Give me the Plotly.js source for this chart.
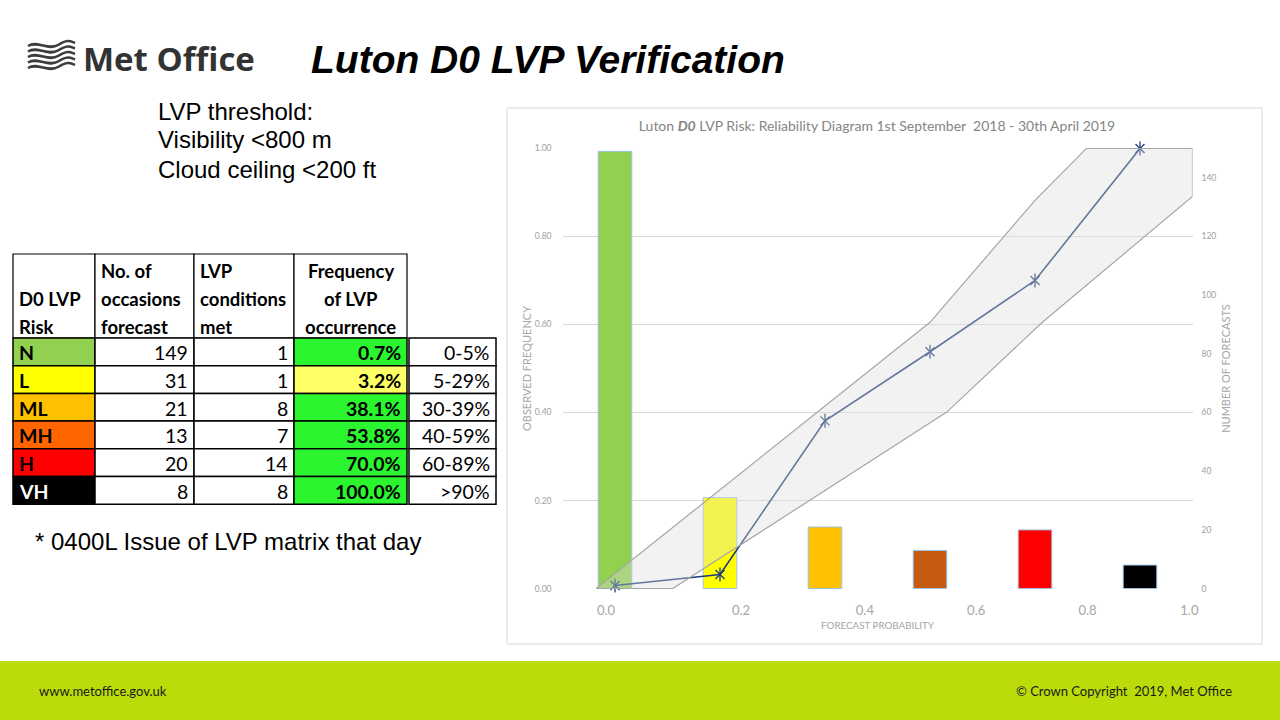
<!DOCTYPE html>
<html><head><meta charset="utf-8">
<script src="https://cdn.plot.ly/plotly-3.0.1.min.js"></script>
<style>html,body{margin:0;padding:0;background:#fff;overflow:hidden}#chart{width:1280px;height:720px;}</style>
</head><body><div id="chart"></div>
<script>
// ---------------- data ----------------
const riskCategories = ['N', 'L', 'ML', 'MH', 'H', 'VH'];
const occasionsForecast = [149, 31, 21, 13, 20, 8];
const lvpConditionsMet = [1, 1, 8, 7, 14, 8];
const lvpFrequencyPct = [0.7, 3.2, 38.1, 53.8, 70.0, 100.0];
const probabilityRanges = ['0-5%', '5-29%', '30-39%', '40-59%', '60-89%', '>90%'];
const tableHeaders = [
  ['', 'D0 LVP', 'Risk'],
  ['No. of', 'occasions', 'forecast'],
  ['LVP', 'conditions', 'met'],
  ['Frequency', 'of LVP', 'occurrence']
];
const xTickLabels = ['0.0', '0.2', '0.4', '0.6', '0.8', '1.0'];
// confidence band, x in category-index units, y as observed frequency
const bandUpperX = [-0.18, 3.0, 4.0, 4.49, 5.5];
const bandUpperY = [0.0, 0.605, 0.882, 1.0, 1.0];
const bandLowerX = [-0.18, 0.55, 3.16, 4.07, 5.5];
const bandLowerY = [0.0, 0.0, 0.401, 0.605, 0.891];

// ---------------- styles / layout helpers ----------------
const W = 1280, H = 720;
const px = x => x / W;
const py = y => 1 - y / H;
const barColors = ['#92D050', '#FFFF00', '#FFC000', '#C55A11', '#FF0000', '#000000'];
const riskFill = ['#92D050', '#FFFF00', '#FFC000', '#FF6600', '#FF0000', '#000000'];
const riskFont = ['#000', '#000', '#000', '#000', '#000', '#fff'];
const freqFill = ['#2BF52F', '#FFFF66', '#2BF52F', '#2BF52F', '#2BF52F', '#2BF52F'];
const xTickPos = [-0.086, 1.2, 2.38, 3.44, 4.5, 5.47];
const lineColor = '#203C7C';
const chartFont = 'Lato, "Open Sans", sans-serif';
const arial = '"Liberation Sans", Arial, sans-serif';
const idx = riskCategories.map((_, i) => i);

const bandX = bandUpperX.concat(bandLowerX.slice().reverse());
const bandY = bandUpperY.concat(bandLowerY.slice().reverse());

const traces = [
  {
    type: 'bar', x: idx, y: occasionsForecast, width: 0.32,
    xaxis: 'x', yaxis: 'y', name: 'Number of forecasts',
    text: riskCategories, hoverinfo: 'text+y', textposition: 'none',
    marker: {color: barColors, line: {color: '#9DC3E6', width: 1}}
  },
  {
    type: 'scatter', mode: 'lines', x: idx, y: lvpFrequencyPct.map(v => v / 100),
    xaxis: 'x', yaxis: 'y2', name: 'Observed frequency',
    line: {color: lineColor, width: 1.6}
  },
  {
    type: 'scatter', mode: 'markers', x: idx, y: lvpFrequencyPct.map(v => v / 100),
    xaxis: 'x', yaxis: 'y2', showlegend: false, hoverinfo: 'skip', cliponaxis: false,
    marker: {symbol: 'x-thin-open', size: 9, color: lineColor, line: {width: 1.3}}
  },
  {
    type: 'scatter', mode: 'markers', x: idx, y: lvpFrequencyPct.map(v => v / 100),
    xaxis: 'x', yaxis: 'y2', showlegend: false, hoverinfo: 'skip', cliponaxis: false,
    marker: {symbol: 'line-ns-open', size: 10, color: lineColor, line: {width: 1.3}}
  },
  {
    type: 'scatter', mode: 'lines', x: bandX, y: bandY, fill: 'toself',
    xaxis: 'x', yaxis: 'y2', name: 'Band', hoverinfo: 'skip',
    fillcolor: 'rgba(219,219,219,0.37)', line: {color: '#A6A6A6', width: 1.2}
  }
];

// ---------------- table (shapes + text) ----------------
const tblCols = [13, 95, 194, 294, 407];   // column edges, px
const tblCol5 = [409, 496];
const tblTop = 254, tblHeadBottom = 338, tblRowH = 27.7;
const tblLine = {color: '#000000', width: 1.5};
const rectShape = (x0, y0, x1, y1, fill, line) => ({
  type: 'rect', xref: 'paper', yref: 'paper',
  x0: px(x0), x1: px(x1), y0: py(y1), y1: py(y0),
  fillcolor: fill, line: line || tblLine, layer: 'above'
});
const txt = (text, x, y, xanchor, font) => ({
  text: text, xref: 'paper', yref: 'paper', x: px(x), y: py(y),
  xanchor: xanchor, yanchor: 'middle', showarrow: false, font: font
});
const tableShapes = [];
const tableAnn = [];
const headFont = {family: chartFont, size: 18.5, weight: 700, color: '#000000'};
const cellFont = {family: chartFont, size: 19.5, color: '#000000'};
const headLineY = [270.5, 298.5, 326.5];
tableHeaders.forEach((lines, c) => {
  const x0 = tblCols[c], x1 = tblCols[c + 1];
  tableShapes.push(rectShape(x0, tblTop, x1, tblHeadBottom, '#ffffff', {color: '#000', width: 1.2}));
  lines.forEach((ln, k) => {
    if (!ln) return;
    if (c === 3) tableAnn.push(txt(ln, (x0 + x1) / 2, headLineY[k], 'center', headFont));
    else tableAnn.push(txt(ln, x0 + 4, headLineY[k], 'left', headFont));
  });
});
const colValues = [
  riskCategories,
  occasionsForecast.map(String),
  lvpConditionsMet.map(String),
  lvpFrequencyPct.map(v => v.toFixed(1) + '%')
];
riskCategories.forEach((_, r) => {
  const y0 = tblHeadBottom + r * tblRowH, y1 = y0 + tblRowH, yc = (y0 + y1) / 2 + 1;
  colValues.forEach((vals, c) => {
    const x0 = tblCols[c], x1 = tblCols[c + 1];
    let fill = '#ffffff';
    if (c === 0) fill = riskFill[r];
    if (c === 3) fill = freqFill[r];
    tableShapes.push(rectShape(x0, y0, x1, y1, fill));
    if (c === 0) {
      tableAnn.push(txt('<b>' + vals[r] + '</b>', x0 + 4, yc, 'left',
        Object.assign({}, cellFont, {color: riskFont[r], weight: 700})));
    } else if (c === 3) {
      tableAnn.push(txt('<b>' + vals[r] + '</b>', x1 - 4, yc, 'right',
        Object.assign({}, cellFont, {weight: 700})));
    } else {
      tableAnn.push(txt(vals[r], x1 - 4, yc, 'right', cellFont));
    }
  });
  tableShapes.push(rectShape(tblCol5[0], y0, tblCol5[1], y1, '#ffffff'));
  tableAnn.push(txt(probabilityRanges[r].replace('>', '&gt;'), tblCol5[1] - 4, yc, 'right', cellFont));
});

// logo waves
const waveShapes = [46, 51.5, 57, 62.5, 68].map(y => {
  const p = (x, yy) => px(x) + ',' + py(yy);
  return {
    type: 'path', xref: 'paper', yref: 'paper',
    path: 'M' + p(28, y) + ' C' + p(38, y - 6) + ' ' + p(48, y + 5) + ' ' + p(58, y - 1) +
          ' S' + p(70, y - 5) + ' ' + p(75, y - 3),
    line: {color: '#3c3c3c', width: 2.6}
  };
});

const layout = {
  width: W, height: H,
  margin: {l: 0, r: 0, t: 0, b: 0},
  paper_bgcolor: '#ffffff', plot_bgcolor: 'rgba(0,0,0,0)',
  showlegend: false,
  font: {family: chartFont},
  title: {
    text: 'Luton <b><i>D0</i></b> LVP Risk: Reliability Diagram 1st September  2018 - 30th April 2019',
    x: px(877), y: py(126), xanchor: 'center', yanchor: 'middle', xref: 'paper', yref: 'paper',
    font: {family: chartFont, size: 14, color: '#858585'}
  },
  xaxis: {
    domain: [px(562.5), px(1192.5)], range: [-0.5, 5.5], anchor: 'y',
    tickmode: 'array', tickvals: xTickPos, ticktext: xTickLabels,
    showgrid: false, zeroline: false, showline: false, ticks: '',
    ticklabelstandoff: 12,
    tickfont: {family: chartFont, size: 13, color: '#A6A6A6'},
    title: {text: 'FORECAST PROBABILITY', standoff: 5, font: {family: chartFont, size: 9.8, color: '#A6A6A6'}}
  },
  yaxis: {
    domain: [py(589), py(148)], range: [-0.15, 150.15], side: 'right', anchor: 'x',
    tickmode: 'linear', tick0: 0, dtick: 20,
    showgrid: false, zeroline: false, showline: false, ticks: '',
    ticklabelstandoff: 8,
    tickfont: {family: chartFont, size: 8.5, color: '#A0A0A0'},
    title: {text: 'NUMBER OF FORECASTS', standoff: 6, font: {family: chartFont, size: 11, color: '#A6A6A6'}}
  },
  yaxis2: {
    overlaying: 'y', side: 'left', anchor: 'x', range: [-0.001, 1.001],
    tickmode: 'linear', tick0: 0, dtick: 0.2, tickformat: '.2f',
    showgrid: true, gridcolor: '#D9D9D9', gridwidth: 1,
    zeroline: false, showline: false, ticks: '',
    ticklabelstandoff: 10,
    tickfont: {family: chartFont, size: 8.5, color: '#A0A0A0'},
    title: {text: 'OBSERVED FREQUENCY', standoff: 0, font: {family: chartFont, size: 11, color: '#A6A6A6'}}
  },
  shapes: [
    {type: 'rect', xref: 'paper', yref: 'paper', x0: px(507), x1: px(1262), y0: py(644), y1: py(108),
     line: {color: '#D9D9D9', width: 1}, fillcolor: 'rgba(0,0,0,0)', layer: 'below'},
    {type: 'rect', xref: 'paper', yref: 'paper', x0: 0, x1: 1, y0: 0, y1: py(661),
     line: {width: 0}, fillcolor: '#BBDC0A', layer: 'below'}
  ].concat(waveShapes, tableShapes),
  annotations: [
    {text: 'Met Office', xref: 'paper', yref: 'paper', x: px(81), y: py(58), xanchor: 'left', yanchor: 'middle',
     showarrow: false, font: {family: '"Open Sans", sans-serif', size: 33, weight: 700, color: '#333333'}},
    {text: '<b><i>Luton D0 LVP Verification</i></b>', xref: 'paper', yref: 'paper', x: px(547.5), y: py(59),
     xanchor: 'center', yanchor: 'middle', showarrow: false,
     font: {family: arial, size: 39, color: '#000000'}},
    txt('LVP threshold:', 156, 111, 'left', {family: arial, size: 24, color: '#000'}),
    txt('Visibility &lt;800 m', 156, 140, 'left', {family: arial, size: 24, color: '#000'}),
    txt('Cloud ceiling &lt;200 ft', 156, 169, 'left', {family: arial, size: 24, color: '#000'}),
    txt('* 0400L Issue of LVP matrix that day', 33, 541, 'left', {family: arial, size: 24, color: '#000'}),
    txt('www.metoffice.gov.uk', 37, 691, 'left', {family: '"Liberation Sans Narrow", Lato, sans-serif', size: 13, color: '#1a1a1a'}),
    txt('© Crown Copyright  2019, Met Office', 1234, 691, 'right', {family: '"Liberation Sans Narrow", Lato, sans-serif', size: 13, color: '#1a1a1a'})
  ].concat(tableAnn)
};

Plotly.newPlot('chart', traces, layout, {displayModeBar: false, staticPlot: true});
</script>
</body></html>
